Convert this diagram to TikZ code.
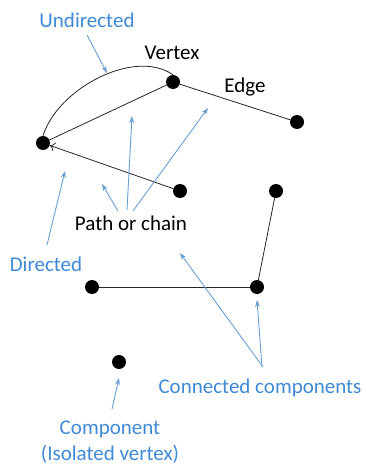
\documentclass[tikz,border=0pt]{standalone}
\usepackage{fontspec}
\setmainfont{Carlito}
\usetikzlibrary{arrows.meta}
\definecolor{txtblue}{HTML}{3F8AD6}
\definecolor{arrblue}{HTML}{6A9FD4}
\tikzset{
  vtx/.style={circle,fill=black,inner sep=0pt,minimum size=14pt},
  edgeline/.style={draw=black!85,line width=0.8pt},
  lbl/.style={font=\fontsize{21}{26}\selectfont,text=black,inner sep=0pt},
  blbl/.style={font=\fontsize{21}{26}\selectfont,text=txtblue,inner sep=0pt,align=center},
  pointer/.style={draw=arrblue,line width=0.9pt,-{Stealth[length=7pt,width=5pt]}}
}
\begin{document}
\begin{tikzpicture}[x=1pt,y=-1pt]
\useasboundingbox (0,0) rectangle (366,465);
% vertices
\node[vtx] (A) at (173,82) {};
\node[vtx] (B) at (43,143) {};
\node[vtx] (C) at (297,122) {};
\node[vtx] (D) at (180,191) {};
\node[vtx] (E) at (276,191) {};
\node[vtx] (F) at (257,287) {};
\node[vtx] (G) at (92,287) {};
\node[vtx] (H) at (119,362) {};
% edges
\draw[edgeline] (A) -- (B);
\draw[edgeline] (A) -- (C);
\draw[edgeline,-{To[length=5pt,width=9pt]}] (D) -- (B);
\draw[edgeline] (B.north) .. controls (58,88) and (135,48) .. (A.north);
\draw[edgeline] (E) -- (F);
\draw[edgeline] (G) -- (F);
% labels
\node[blbl] (lUnd) at (87,20) {Undirected};
\node[lbl] (lVer) at (172,53) {Vertex};
\node[lbl] (lEdg) at (245,87) {Edge};
\node[lbl] (lPath) at (131,223) {Path or chain};
\node[blbl] (lDir) at (46,264) {Directed};
\node[blbl] (lCon) at (260,388) {Connected components};
\node[blbl] (lComp) at (110,442) {Component\\(Isolated vertex)};
% pointer endpoints
\coordinate (pU) at (107,73);
\coordinate (pP1) at (102,184);
\coordinate (pP2) at (132,116);
\coordinate (pP3) at (208,108);
\coordinate (pD) at (65,171);
\coordinate (pC1) at (180,253);
\coordinate (pC2) at (257,300);
\coordinate (pH) at (119,378);
% pointers
\draw[pointer] (87,35) -- (pU);
\draw[pointer] (118,211) -- (pP1);
\draw[pointer] (127,210) -- (pP2);
\draw[pointer] (133,211) -- (pP3);
\draw[pointer] (47,245) -- (pD);
\draw[pointer] (263,367) -- (pC1);
\draw[pointer] (262,367) -- (pC2);
\draw[pointer] (112,409) -- (pH);
\end{tikzpicture}
\end{document}
